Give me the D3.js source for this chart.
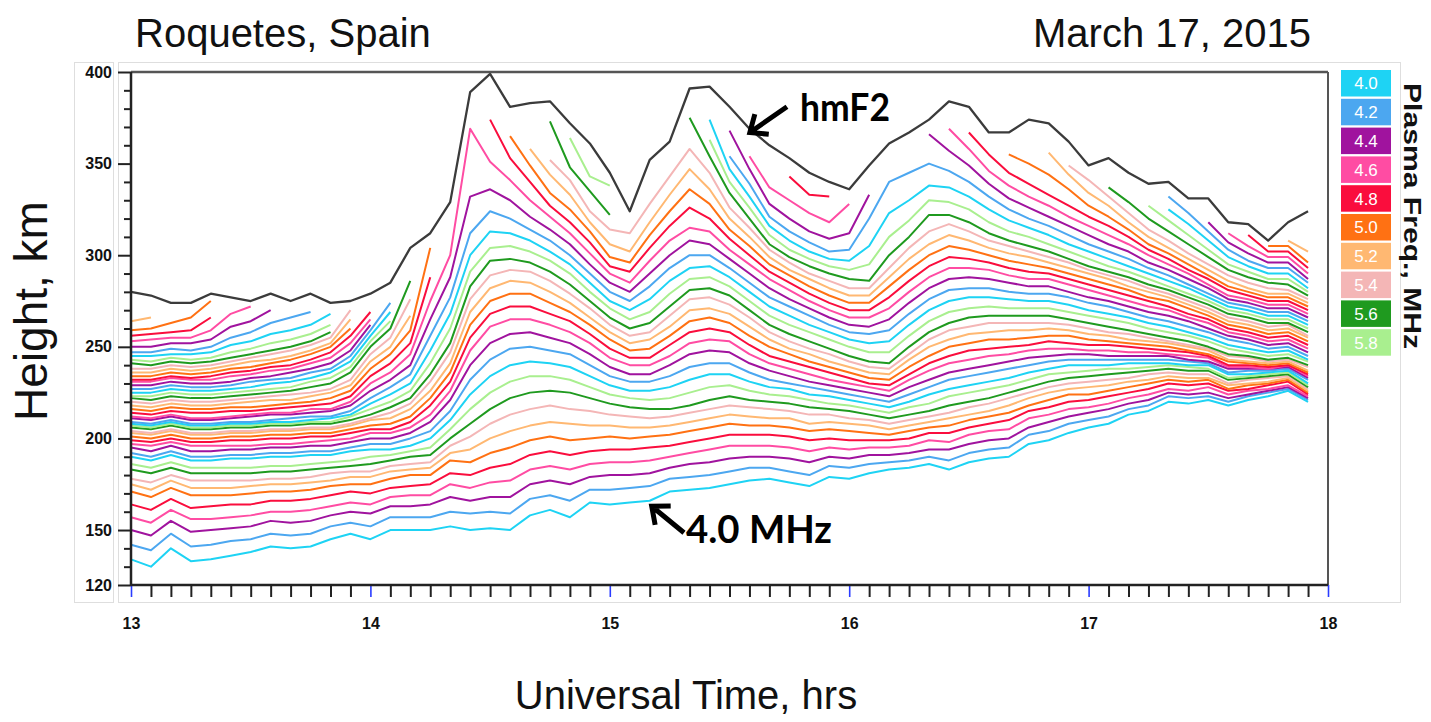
<!DOCTYPE html>
<html>
<head>
<meta charset="utf-8">
<script src="https://cdn.jsdelivr.net/npm/d3@7"></script>
<style>
  body { margin: 0; background: #fff; }
  svg { display: block; font-family: "Liberation Sans", Arial, sans-serif; }
</style>
</head>
<body>
<div class="container"></div>
<script>
// plasma frequency legend (colours repeat every 2 MHz)
const freqLabels = ["4.0", "4.2", "4.4", "4.6", "4.8", "5.0", "5.2", "5.4", "5.6", "5.8"];
const freqColors = ["#1ed3f4", "#4ca7f0", "#a0139e", "#ff4ca3", "#fa0d3d",
                    "#ff7113", "#ffb872", "#f4b6b6", "#1f9a1f", "#a9ef8f"];

// ionogram times, UT
const sampleTimes = [
  "13:00","13:05","13:10","13:15","13:20","13:25","13:30","13:35","13:40","13:45","13:50","13:55",
  "14:00","14:05","14:10","14:15","14:20","14:25","14:30","14:35","14:40","14:45","14:50","14:55",
  "15:00","15:05","15:10","15:15","15:20","15:25","15:30","15:35","15:40","15:45","15:50","15:55",
  "16:00","16:05","16:10","16:15","16:20","16:25","16:30","16:35","16:40","16:45","16:50","16:55",
  "17:00","17:05","17:10","17:15","17:20","17:25","17:30","17:35","17:40","17:45","17:50","17:55"
];

// peak height of the F2 layer, km
const hmF2 = [
  280,278,274,274,279,277,275,279,275,279,274,275,
  279,285,304,312,329,389,399,381,383,384,372,361,
  345,324,352,362,391,392,381,369,360,353,345,340,
  336,349,361,367,374,384,381,367,367,374,372,362,
  349,353,345,339,340,331,331,318,317,308,318,324
];

// true-height profiles: one row per ionogram, heights (km) of 4.0, 4.2, 4.4 ... MHz
const ut13 = [
  [134,142,150,157,164,171,175,178,183,186,190,192,195,197,199,201,203,204,206,207,208,209,211,212,214,216,218,220,222,223,225,227,229,231,232,234,236,238,241,243,245,247,250,253,256,259,264],
  [130,139,147,154,161,168,172,176,181,184,188,190,193,196,198,200,202,203,205,206,207,208,210,211,213,215,217,219,221,223,225,227,229,231,232,234,236,238,240,242,245,247,250,254,257,260,266],
  [140,148,155,161,167,173,177,180,184,187,191,193,196,198,200,202,204,205,207,208,209,210,212,213,215,217,219,221,223,225,227,229,231,233,234,236,238,240,242,244,246,249,252,255,258,263],
  [133,141,149,156,162,169,173,177,181,184,188,190,193,196,198,200,202,203,205,206,207,208,210,211,214,216,218,220,222,224,226,228,230,232,233,235,237,239,241,243,246,248,252,255,259,266],
  [134,142,150,156,163,169,173,177,181,184,188,190,193,196,198,200,202,203,205,206,207,208,210,211,214,216,218,220,222,224,226,228,230,232,234,236,238,240,242,244,247,250,254,259,266,275],
  [136,144,151,157,164,169,173,177,181,184,189,191,194,196,199,201,203,204,206,207,208,209,211,212,215,217,219,221,223,225,227,229,231,234,236,238,240,242,244,247,251,255,261,268],
  [138,145,152,158,164,170,174,177,181,184,189,191,194,196,199,201,203,204,206,207,208,209,212,213,215,217,220,222,224,226,228,231,233,235,237,239,242,244,246,249,253,258,264,272],
  [141,148,155,160,166,171,175,178,182,185,190,192,195,197,200,202,204,205,207,208,209,210,213,214,216,218,221,223,225,227,230,232,234,237,239,241,243,246,248,252,257,263,270],
  [140,147,154,160,166,171,175,178,182,185,190,192,195,197,200,202,204,205,207,208,209,211,213,214,217,219,221,224,226,228,231,233,236,238,240,243,245,248,250,254,259,266],
  [141,148,155,161,167,172,176,179,183,186,191,193,196,198,201,203,205,206,208,209,210,212,214,216,218,220,223,225,228,231,233,236,238,241,243,246,248,251,253,257,262,269],
  [145,152,158,163,169,174,177,181,184,187,191,193,196,199,201,203,205,206,208,209,211,212,215,216,219,222,225,227,230,233,236,238,241,244,247,250,252,255,258,262,268],
  [148,154,160,165,171,175,179,182,185,188,193,195,198,200,203,205,207,208,210,212,213,215,218,220,223,226,229,232,236,239,242,245,248,252,256,260,265,270]
];
const ut14 = [
  [145,152,159,164,170,175,179,182,186,190,194,197,200,203,205,207,210,211,213,216,219,222,226,230,234,238,242,246,250,253,256,259,262,265,269],
  [150,157,163,168,173,178,182,185,188,191,194,197,200,203,205,208,211,214,217,220,224,228,232,236,241,246,250,255,260,264,269,274],
  [150,157,163,169,174,180,183,186,190,193,196,200,203,206,209,212,216,219,222,226,230,235,240,246,252,259,267,276,286],
  [150,157,164,169,175,180,184,187,191,195,200,204,209,213,218,222,226,231,235,241,248,256,265,275,288,304],
  [152,160,168,175,181,188,192,196,200,205,210,215,221,226,231,236,241,247,252,260,268,277,288,300],
  [150,159,166,173,180,187,194,201,208,216,224,232,240,248,255,262,269,276,283,291,300,312,332,369],
  [151,160,168,176,184,192,200,208,216,225,234,243,252,261,268,275,282,289,297,304,313,324,336,351,374],
  [150,159,168,177,186,195,204,213,222,231,240,249,257,265,272,279,286,292,298,305,312,320,330,341,353,365],
  [158,167,175,183,191,199,207,216,225,234,242,250,258,265,272,279,285,291,296,302,308,314,321,330,340,349,358],
  [161,169,177,185,193,201,209,218,226,234,241,248,255,262,268,274,280,286,291,297,302,308,314,321,327,334,344,352,373],
  [157,166,175,183,191,199,208,216,225,232,239,246,252,258,264,269,274,279,284,290,295,300,306,312,318,325,333,341,348,364],
  [165,172,179,186,193,200,207,215,222,228,234,240,246,252,257,262,266,271,275,280,285,290,295,301,307,313,318,324,335,343]
];
const ut15 = [
  [164,172,180,187,194,201,207,213,219,224,229,234,239,244,249,254,258,262,266,271,275,280,285,290,294,299,306,314,322,338],
  [165,173,180,187,194,200,206,212,217,222,226,231,235,240,244,248,252,256,260,265,270,275,280,285,291,296,302,312],
  [166,174,181,188,195,201,206,211,216,221,226,231,235,240,244,249,254,258,263,269,276,283,290,297,304,311,318,328],
  [171,178,184,190,196,202,207,212,216,222,228,234,240,245,251,256,261,267,272,279,286,293,300,308,316,324,333,343],
  [172,179,186,192,198,204,209,214,218,225,232,239,246,252,258,264,270,276,281,287,293,300,308,315,326,336,347,358,375],
  [173,180,187,194,200,206,211,216,221,228,235,241,248,254,260,266,271,277,282,288,294,300,306,313,320,328,336,345,354,363,374],
  [175,182,189,196,202,208,213,218,223,229,235,241,247,253,258,263,268,273,278,283,288,293,298,303,309,314,320,326,334,340,347,354,368],
  [177,184,190,196,202,207,212,217,221,226,231,236,241,246,251,256,261,266,270,275,280,285,290,295,300,305,310,315,320,326,332,339,347,354],
  [178,184,190,196,202,207,211,216,220,224,228,232,237,241,245,250,254,258,262,267,272,277,282,287,291,295,299,303,306,311,316,321,328,337],
  [176,182,189,195,201,206,211,215,219,223,227,230,234,238,242,246,249,253,257,262,267,272,276,281,285,289,292,296,299,303,308,313,320,330,343],
  [174,180,187,193,199,204,208,213,217,221,224,228,231,235,239,242,246,249,253,258,262,267,271,275,279,283,287,290,294,298,302,307,313,323,333],
  [179,185,190,195,200,205,209,213,216,219,223,226,229,232,236,239,242,246,249,254,258,262,266,270,274,278,282,286,290,294,298,302,309,318,332]
];
const ut16 = [
  [178,184,189,194,199,204,208,211,215,218,221,224,227,230,233,236,239,242,245,250,254,258,262,266,270,274,278,282,287,292,297,303,312,328],
  [181,186,191,195,199,203,207,210,213,216,219,222,225,228,230,233,236,239,242,247,252,257,261,266,270,274,278,282,286,295,305,320,333],
  [183,187,191,195,199,202,205,208,211,214,217,220,223,226,229,232,235,238,241,247,253,259,265,271,277,283,288,293,300,310,323,340],
  [184,188,192,196,200,204,207,210,213,217,220,224,228,232,235,239,243,246,250,256,262,268,274,280,286,292,298,304,310,319,330,345],
  [186,190,194,199,203,206,209,212,215,219,224,228,232,237,241,245,250,254,258,264,270,276,282,288,294,300,306,313,322,330,338,350,366],
  [183,188,194,198,203,207,211,214,218,223,227,232,236,241,245,250,254,259,263,269,275,281,287,293,299,305,311,317,322,329,337,346,357,369],
  [187,192,197,202,206,210,213,217,220,225,229,234,238,243,248,252,257,261,266,271,277,282,288,293,298,303,308,313,318,325,332,340,349,358,367],
  [189,194,199,204,208,212,215,219,222,227,231,236,240,245,249,254,258,263,267,272,277,282,287,292,296,300,304,308,312,318,325,332,339,346,355],
  [190,195,200,205,210,214,218,222,225,229,233,238,242,246,250,254,259,263,267,271,276,280,285,289,293,297,301,305,308,313,319,325,331,338,345,355],
  [197,202,206,211,215,218,222,225,228,232,236,240,244,248,251,255,259,263,267,271,275,279,283,287,291,295,299,302,305,310,315,320,326,332,339,350],
  [199,204,209,213,217,221,225,228,231,235,238,242,245,249,253,256,260,263,267,271,275,279,283,287,290,293,296,299,302,306,311,316,321,327,333,344,356],
  [203,208,212,216,220,224,227,230,233,236,240,243,246,249,252,256,259,262,265,269,273,277,280,284,287,290,293,296,298,302,306,311,316,321,327,336,344,349]
];
const ut17 = [
  [206,210,214,217,221,224,228,231,234,237,240,243,246,248,251,254,257,260,263,267,270,274,277,281,284,287,290,292,294,298,302,306,311,316,321,327,334,341],
  [208,212,216,219,223,226,229,232,235,238,240,243,245,248,251,253,256,258,261,265,268,272,275,278,281,284,287,289,291,294,298,302,306,311,316,321,327,332,337],
  [213,216,219,222,225,228,231,233,236,238,241,243,245,247,250,252,254,257,259,263,266,269,272,275,278,281,283,286,288,291,294,298,302,306,310,314,318,323,329],
  [215,218,221,224,227,230,232,235,237,239,241,243,245,247,249,251,253,255,257,260,263,266,269,272,275,277,280,282,284,287,290,293,296,300,303,306,310,314,320,327],
  [220,223,225,227,230,232,234,236,238,240,241,243,245,246,248,250,252,253,255,258,261,264,267,270,272,275,277,279,281,283,286,289,292,295,298,301,304,308,313,319,325,332],
  [219,222,224,226,229,231,233,235,237,239,240,242,243,245,247,248,250,251,253,256,258,261,264,266,268,271,273,275,277,279,282,284,287,290,292,295,298,301,306,311,317,323],
  [221,223,225,228,230,232,233,235,237,238,240,241,242,244,245,246,248,249,250,253,255,258,260,263,265,267,269,271,273,275,277,279,282,284,287,289,292,295,299,303,308,313,318],
  [218,220,222,224,226,227,229,230,232,233,235,236,238,239,240,242,243,245,246,249,251,254,256,258,260,262,264,266,268,270,272,274,276,278,281,283,286,289,292,295,299,303,307,312],
  [221,223,224,226,227,229,230,232,233,234,235,237,238,239,240,241,242,244,245,247,249,252,254,256,258,260,262,264,266,268,270,272,274,276,278,280,282,285,288,291,294,297,301,305,311],
  [223,225,226,227,229,230,231,233,234,235,236,237,238,238,239,240,241,242,243,245,247,249,251,253,255,257,259,261,263,265,267,269,271,273,275,277,279,282,285,287,290,293,296,299,302,305],
  [226,227,228,229,231,232,233,234,235,236,237,238,239,240,240,241,242,243,244,246,248,250,252,254,256,258,260,262,263,265,267,269,271,273,275,277,279,281,284,287,290,293,296,299,302,305,308],
  [220,221,222,223,224,225,226,227,228,229,230,232,233,234,235,236,237,239,240,242,243,245,247,249,251,253,255,256,258,260,262,264,266,268,270,272,274,276,278,280,282,285,287,290,293,296,302]
];

const yMajor = [120, 150, 200, 250, 300, 350, 400];
const hourTicks = [13, 14, 15, 16, 17, 18];

// ---------------------------------------------------------------
const W = 1431, H = 722;
const margin = { top: 72, right: 103, bottom: 137, left: 131 };

const x = d3.scaleLinear().domain([13, 18]).range([margin.left, W - margin.right]);
const y = d3.scaleLinear().domain([120, 400]).range([H - margin.bottom, margin.top]);

const parseUT = (s) => {
  const [h, m] = s.split(":").map(Number);
  return h + m / 60;
};

const profiles = [...ut13, ...ut14, ...ut15, ...ut16, ...ut17];
const nFreq = d3.max(profiles, (p) => p.length);
const series = d3.range(nFreq).map((k) => ({
  k,
  values: profiles.map((p, i) => ({ t: parseUT(sampleTimes[i]), h: p[k] })),
}));
const peak = hmF2.map((h, i) => ({ t: parseUT(sampleTimes[i]), h }));

const svg = d3
  .select(".container")
  .append("svg")
  .attr("width", W)
  .attr("height", H);

// light panel outlines
svg.append("rect").attr("x", 74.5).attr("y", 62.5).attr("width", 39).attr("height", 540)
  .attr("fill", "none").attr("stroke", "#dedede");
svg.append("rect").attr("x", 118.5).attr("y", 62.5).attr("width", 1282).attr("height", 540)
  .attr("fill", "none").attr("stroke", "#dedede");

const line = d3
  .line()
  .defined((d) => d.h != null)
  .x((d) => x(d.t))
  .y((d) => y(d.h));

svg
  .append("g")
  .attr("fill", "none")
  .attr("stroke-width", 2)
  .attr("stroke-linejoin", "round")
  .selectAll("path")
  .data(series)
  .join("path")
  .attr("stroke", (d) => freqColors[d.k % 10])
  .attr("d", (d) => line(d.values));

svg
  .append("path")
  .datum(peak)
  .attr("fill", "none")
  .attr("stroke", "#3b3b3b")
  .attr("stroke-width", 2.3)
  .attr("stroke-linejoin", "round")
  .attr("d", line);

// frame
const [x0, x1] = x.range();
const [yb, yt] = y.range();
svg.append("line").attr("x1", x0).attr("x2", x1).attr("y1", yt).attr("y2", yt)
  .attr("stroke", "#555").attr("stroke-width", 2.5);
svg.append("line").attr("x1", x1).attr("x2", x1).attr("y1", yt).attr("y2", yb)
  .attr("stroke", "#555").attr("stroke-width", 2);

// y axis
const yMinor = d3.range(130, 400, 10).filter((v) => !yMajor.includes(v));
const yAxisG = svg.append("g").attr("transform", `translate(${x0},0)`);
yAxisG.append("g")
  .call(d3.axisLeft(y).tickValues(yMinor).tickSize(7).tickFormat(""))
  .call((g) => g.select(".domain").remove());
yAxisG.append("g")
  .call(d3.axisLeft(y).tickValues(yMajor).tickSize(13).tickPadding(6).tickFormat(d3.format("d")))
  .call((g) => g.select(".domain").remove());
yAxisG.selectAll(".tick line").attr("stroke", "#222").attr("stroke-width", 2);
yAxisG.selectAll(".tick text")
  .attr("font-family", "Liberation Sans, Arial, sans-serif")
  .attr("font-size", 16).attr("font-weight", "bold").attr("fill", "#111");

// x axis
const xMinor = sampleTimes.map(parseUT).filter((t) => !Number.isInteger(t));
const xAxisG = svg.append("g").attr("transform", `translate(0,${yb})`);
xAxisG.append("g")
  .call(d3.axisBottom(x).tickValues(xMinor).tickSize(12).tickFormat(""))
  .call((g) => g.select(".domain").remove())
  .selectAll(".tick line").attr("stroke", "#222").attr("stroke-width", 2);
xAxisG.append("g")
  .call(d3.axisBottom(x).tickValues(hourTicks).tickSize(12).tickPadding(21).tickFormat(d3.format("d")))
  .call((g) => g.select(".domain").remove())
  .call((g) => g.selectAll(".tick line").attr("stroke", "#2a3cff").attr("stroke-width", 1.6))
  .call((g) => g.selectAll(".tick text")
    .attr("font-family", "Liberation Sans, Arial, sans-serif")
    .attr("font-size", 16).attr("font-weight", "bold").attr("fill", "#111"));

svg.append("line").attr("x1", x0).attr("x2", x0).attr("y1", yt).attr("y2", yb + 1)
  .attr("stroke", "#222").attr("stroke-width", 2.5);
svg.append("line").attr("x1", x0).attr("x2", x1).attr("y1", yb).attr("y2", yb)
  .attr("stroke", "#222").attr("stroke-width", 2.5);

// titles
svg.append("text").attr("x", 135).attr("y", 47).attr("font-size", 40).attr("fill", "#111")
  .text("Roquetes, Spain");
svg.append("text").attr("x", 1311).attr("y", 47).attr("font-size", 40).attr("fill", "#111")
  .attr("text-anchor", "end").text("March 17, 2015");
svg.append("text").attr("x", 686).attr("y", 709).attr("font-size", 40).attr("fill", "#111")
  .attr("text-anchor", "middle").text("Universal Time, hrs");
svg.append("text").attr("transform", "translate(47,311) rotate(-90)")
  .attr("font-size", 46).attr("fill", "#111").attr("text-anchor", "middle")
  .text("Height, km");

// legend
const legend = svg.append("g").attr("transform", "translate(1341,70)");
const item = legend.selectAll("g").data(freqLabels).join("g")
  .attr("transform", (d, i) => `translate(0,${i * 28.8})`);
item.append("rect").attr("width", 50).attr("height", 26.5)
  .attr("fill", (d, i) => freqColors[i]);
item.append("text").attr("x", 25).attr("y", 13.5).attr("dy", "0.35em")
  .attr("text-anchor", "middle").attr("fill", "#fff").attr("font-size", 17)
  .text((d) => d);
svg.append("text").attr("transform", "translate(1404,216) rotate(90)")
  .attr("text-anchor", "middle").attr("font-size", 24).attr("font-weight", "bold")
  .attr("fill", "#111").attr("textLength", 266).attr("lengthAdjust", "spacingAndGlyphs")
  .text("Plasma Freq., MHz");

// annotations
function arrow(tail, tip) {
  const [ax, ay] = [x(tail[0]), y(tail[1])];
  const [bx, by] = [x(tip[0]), y(tip[1])];
  const ang = Math.atan2(ay - by, ax - bx);
  const len = 19, spread = 0.7;
  const p1 = [bx + len * Math.cos(ang + spread), by + len * Math.sin(ang + spread)];
  const p2 = [bx + len * Math.cos(ang - spread), by + len * Math.sin(ang - spread)];
  svg.append("path")
    .attr("d", `M${ax},${ay}L${bx},${by}M${p1[0]},${p1[1]}L${bx},${by}L${p2[0]},${p2[1]}`)
    .attr("fill", "none").attr("stroke", "#000").attr("stroke-width", 5)
    .attr("stroke-linejoin", "miter");
}
arrow([15.74, 381], [15.585, 367]);
arrow([15.31, 148.5], [15.175, 163]);

svg.append("text").attr("x", 800).attr("y", 121)
  .attr("font-family", "Lato, 'Open Sans', sans-serif").attr("font-weight", "bold")
  .attr("font-size", 38).attr("fill", "#000").attr("textLength", 90)
  .attr("lengthAdjust", "spacingAndGlyphs").text("hmF2");
svg.append("text").attr("x", 686).attr("y", 543)
  .attr("font-family", "Lato, 'Open Sans', sans-serif").attr("font-weight", "bold")
  .attr("font-size", 38).attr("fill", "#000").attr("textLength", 146)
  .attr("lengthAdjust", "spacingAndGlyphs").text("4.0 MHz");
</script>
</body>
</html>
